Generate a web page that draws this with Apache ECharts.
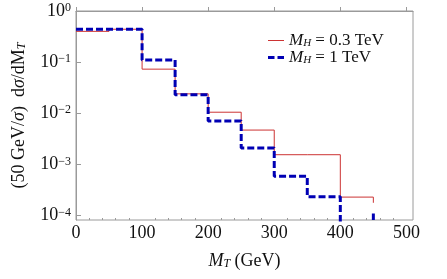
<!DOCTYPE html>
<html><head><meta charset="utf-8">
<script src="https://cdn.jsdelivr.net/npm/echarts@6/dist/echarts.min.js"></script>
<style>html,body{margin:0;padding:0;background:#fff}#c{width:447px;height:279px}</style>
</head><body><div id="c"></div>
<script>
const binEdges = [0, 50, 100, 150, 200, 250, 300, 350, 400, 450];
const seriesNames = ['light', 'heavy'];
const legendLabels = ['{i|M}{sub|H} = 0.3 TeV', '{i|M}{sub|H} = 1 TeV'];
const valuesLight = [0.40, 0.44, 0.073, 0.024, 0.0105, 0.0047, 0.00155, 0.00155, 0.00023];
const endLight = 0.000178;
const valuesHeavy = [0.44, 0.44, 0.11, 0.023, 0.0071, 0.0021, 0.00059, 0.000234, 0.00005];
const endHeavy = 0.00011;
const xTickLabels = [0, 100, 200, 300, 400, 500];
const xMinorTicks = [20, 40, 60, 80, 120, 140, 160, 180, 220, 240, 260, 280, 320, 340, 360, 380, 420, 440, 460, 480];
const yTickExps = [-4, -3, -2, -1, 0];

function steps(vals, endVal) {
  const pts = [];
  vals.forEach((v, i) => {
    pts.push([binEdges[i], Math.log10(v)]);
    pts.push([binEdges[i + 1], Math.log10(v)]);
  });
  pts.push([binEdges[binEdges.length - 1], Math.log10(endVal)]);
  return pts;
}

const FONT = 'Liberation Serif';
const AX = '#9a9a9a';
const RED = '#cc3333';
const BLUE = '#0000b4';
const chart = echarts.init(document.getElementById('c'), null, {renderer: 'canvas'});
chart.setOption({
  animation: false,
  backgroundColor: '#fff',
  grid: {left: 76, top: 11, width: 337, height: 209, show: true, borderColor: AX, borderWidth: 1, backgroundColor: 'transparent'},
  legend: {
    orient: 'vertical', left: 268, top: 32, itemGap: 0, itemWidth: 16, itemHeight: 3,
    padding: 0,
    formatter: name => legendLabels[seriesNames.indexOf(name)],
    textStyle: {fontFamily: FONT, fontSize: 17, color: '#111', lineHeight: 17,
      rich: {i: {fontFamily: FONT, fontSize: 17, fontStyle: 'italic'}, sub: {fontFamily: FONT, fontSize: 11, fontStyle: 'italic', verticalAlign: 'bottom'}}},
    data: [
      {name: 'light', icon: 'path://M0,0h16v1h-16z', itemStyle: {color: RED}},
      {name: 'heavy', icon: 'path://M0,0h6.5v3h-6.5z M9.5,0h6.5v3h-6.5z', itemStyle: {color: BLUE}}
    ]
  },
  xAxis: [{
    type: 'value', min: 0, max: 510, position: 'bottom',
    name: '{i|M}{sub|T} (GeV)', nameLocation: 'middle', nameGap: 32,
    nameTextStyle: {fontFamily: FONT, fontSize: 18, color: '#111',
      rich: {i: {fontFamily: FONT, fontSize: 18, fontStyle: 'italic'}, sub: {fontFamily: FONT, fontSize: 12, fontStyle: 'italic', verticalAlign: 'bottom'}}},
    axisLine: {lineStyle: {color: AX, width: 1}},
    axisTick: {inside: true, length: 4, lineStyle: {color: AX}, customValues: xTickLabels},
    axisLabel: {customValues: xTickLabels, fontFamily: FONT, fontSize: 18, color: '#111', margin: 4},
    splitLine: {show: false}
  }, {
    type: 'value', min: 0, max: 510, position: 'bottom',
    axisLine: {show: false},
    axisTick: {inside: true, length: 2, lineStyle: {color: AX}, customValues: xMinorTicks},
    axisLabel: {show: false},
    splitLine: {show: false}
  }],
  yAxis: {
    type: 'value', min: -4.086, max: 0,
    name: '(50 GeV/{i|σ})  d{i|σ}/dM{sub|T}', nameLocation: 'middle', nameGap: 48,
    nameTextStyle: {fontFamily: FONT, fontSize: 18, color: '#111',
      rich: {i: {fontFamily: FONT, fontSize: 18, fontStyle: 'italic'}, sub: {fontFamily: FONT, fontSize: 12, fontStyle: 'italic', verticalAlign: 'bottom'}}},
    axisLine: {lineStyle: {color: AX, width: 1}},
    axisTick: {inside: true, length: 5, lineStyle: {color: AX}, customValues: yTickExps},
    axisLabel: {customValues: yTickExps, fontFamily: FONT, fontSize: 18, color: '#111', margin: 5,
      formatter: v => '10{sup|' + (v === 0 ? '0' : '\u2212' + Math.abs(v)) + '}',
      rich: {sup: {fontFamily: FONT, fontSize: 12, verticalAlign: 'top', color: '#111'}}},
    splitLine: {show: false}
  },
  series: [{
    name: 'light', type: 'line', data: steps(valuesLight, endLight), symbol: 'none', clip: true,
    lineStyle: {color: RED, width: 1}, itemStyle: {color: RED}
  }, {
    name: 'heavy', type: 'line', data: steps(valuesHeavy, endHeavy), symbol: 'none', clip: true,
    lineStyle: {color: BLUE, width: 3, type: [7, 3]}, itemStyle: {color: BLUE}
  }]
});
</script></body></html>
